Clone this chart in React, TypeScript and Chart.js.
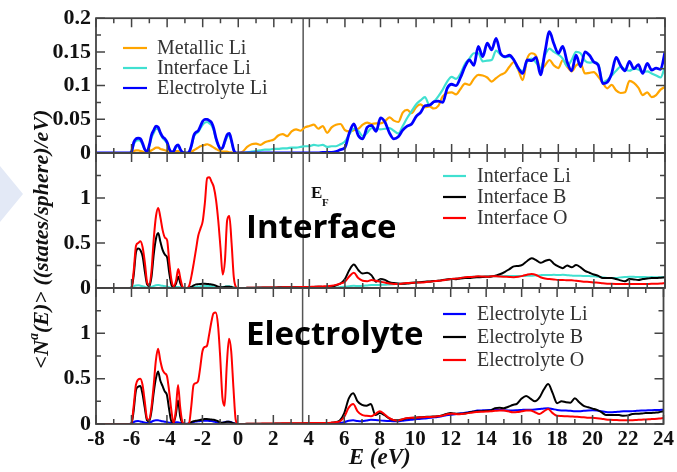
import { useEffect, useRef } from "react";
import { Chart, registerables } from "chart.js";

Chart.register(...registerables);

// ---------- data ----------
const E = [
  -8, -7.5, -7, -6.5,
  -6.25, -6.125, -6, -5.875, -5.75, -5.625, -5.5, -5.375,
  -5.25, -5.125, -5, -4.875, -4.75, -4.625, -4.5, -4.375,
  -4.25, -4.125, -4, -3.875, -3.75, -3.625, -3.5, -3.375,
  -3.25, -3.125, -3, -2.875, -2.75, -2.625, -2.5, -2.375,
  -2.25, -2.125, -2, -1.875, -1.75, -1.625, -1.5, -1.375,
  -1.25, -1.125, -1, -0.875, -0.75, -0.625, -0.5, -0.375,
  -0.25, -0.125, 0,
  0.25, 0.5, 0.75,
  1, 1.25, 1.5, 1.75, 2, 2.25, 2.5, 2.75, 3, 3.25, 3.5, 3.75,
  4, 4.25, 4.5, 4.75, 5, 5.25, 5.5, 5.75, 6, 6.25, 6.5, 6.75,
  7, 7.25, 7.5, 7.75, 8, 8.25, 8.5, 8.75, 9, 9.25, 9.5, 9.75,
  10, 10.25, 10.5, 10.75, 11, 11.25, 11.5, 11.75, 12, 12.25, 12.5, 12.75,
  13, 13.25, 13.5, 13.75, 14, 14.25, 14.5, 14.75, 15, 15.25, 15.5, 15.75,
  16, 16.25, 16.5, 16.75, 17, 17.25, 17.5, 17.75, 18, 18.25, 18.5, 18.75,
  19, 19.25, 19.5, 19.75, 20, 20.25, 20.5, 20.75, 21, 21.25, 21.5, 21.75,
  22, 22.25, 22.5, 22.75, 23, 23.25, 23.5, 23.75,
  24,
];

// top panel
const metallicLi = [
  0, 0, 0, 0,
  0, 0, 0.001, 0.003, 0.004, 0.004, 0.003, 0.002,
  0.001, 0.001, 0.002, 0.004, 0.006, 0.008, 0.008, 0.006,
  0.005, 0.004, 0.003, 0.002, 0.002, 0.002, 0.003, 0.003,
  0.002, 0.001, 0, 0, 0.001, 0.002, 0.004, 0.006,
  0.008, 0.01, 0.011, 0.012, 0.013, 0.012, 0.01, 0.008,
  0.006, 0.004, 0.003, 0.002, 0.002, 0.002, 0.001, 0.001,
  0, 0, 0,
  0.002, 0.009, 0.013,
  0.014, 0.012, 0.016, 0.018,
  0.02, 0.026, 0.028, 0.025,
  0.032, 0.035, 0.033, 0.038,
  0.04, 0.042, 0.036, 0.04,
  0.03, 0.038, 0.042, 0.043,
  0.034, 0.032, 0.034, 0.036,
  0.042, 0.045, 0.043, 0.044,
  0.044, 0.047, 0.053, 0.048,
  0.046, 0.06, 0.064, 0.059,
  0.068, 0.072, 0.068, 0.069,
  0.066, 0.07, 0.084, 0.089,
  0.09, 0.087, 0.095, 0.103,
  0.101, 0.11, 0.116, 0.115,
  0.112, 0.106, 0.111, 0.116,
  0.119, 0.128, 0.135, 0.123,
  0.108, 0.14, 0.148, 0.144,
  0.124, 0.13, 0.138, 0.13,
  0.126, 0.138, 0.128, 0.121,
  0.13, 0.133, 0.118, 0.119,
  0.12, 0.113, 0.104, 0.096,
  0.101, 0.093, 0.089, 0.09,
  0.107, 0.104, 0.097, 0.086,
  0.09, 0.083, 0.086, 0.094,
  0.098,
];

const interfaceLiTop = [
  0, 0, 0, 0,
  0, 0, 0.002, 0.013, 0.018, 0.019, 0.018, 0.012,
  0.005, 0.002, 0.01, 0.023, 0.03, 0.036, 0.035, 0.028,
  0.022, 0.019, 0.014, 0.005, 0.001, 0.003, 0.009, 0.01,
  0.004, 0.001, 0, 0, 0.002, 0.011, 0.024, 0.029,
  0.031, 0.037, 0.042, 0.045, 0.046, 0.044, 0.041, 0.033,
  0.02, 0.011, 0.006, 0.008, 0.016, 0.024, 0.026, 0.016,
  0.004, 0, 0,
  0, 0.001, 0.002,
  0.003, 0.004, 0.005, 0.005,
  0.006, 0.006, 0.007, 0.007,
  0.008, 0.008, 0.009, 0.01,
  0.01, 0.012, 0.011, 0.012,
  0.009, 0.01, 0.01, 0.013,
  0.017, 0.028, 0.036, 0.033,
  0.025, 0.03, 0.037, 0.036,
  0.035, 0.036, 0.037, 0.033,
  0.029, 0.04, 0.052, 0.062,
  0.072, 0.078, 0.083, 0.071,
  0.076, 0.084, 0.094, 0.106,
  0.113, 0.11, 0.118, 0.132,
  0.14, 0.148, 0.148, 0.136,
  0.137, 0.138, 0.152, 0.146,
  0.142, 0.143, 0.138, 0.124,
  0.122, 0.136, 0.14, 0.134,
  0.126, 0.145, 0.155, 0.15,
  0.146, 0.14, 0.129, 0.138,
  0.15, 0.148, 0.137, 0.134,
  0.135, 0.132, 0.105, 0.108,
  0.115, 0.122, 0.128, 0.124,
  0.122, 0.125, 0.124, 0.12,
  0.121, 0.118, 0.115, 0.112,
  0.128,
];

const electrolyteLiTop = [
  0, 0, 0, 0,
  0, 0, 0.002, 0.016, 0.021, 0.022, 0.021, 0.014,
  0.005, 0.002, 0.012, 0.027, 0.034, 0.04, 0.038, 0.03,
  0.024, 0.021, 0.016, 0.006, 0.001, 0.003, 0.01, 0.012,
  0.005, 0.001, 0, 0, 0.002, 0.012, 0.026, 0.031,
  0.033, 0.04, 0.047, 0.05, 0.05, 0.048, 0.045, 0.036,
  0.022, 0.012, 0.006, 0.008, 0.018, 0.027, 0.029, 0.018,
  0.004, 0, 0,
  0, 0, 0,
  0, 0, 0, 0,
  0, 0, 0, 0,
  0, 0, 0, 0,
  0, 0, 0, 0.001,
  0.001, 0.001, 0.002, 0.005,
  0.008, 0.03, 0.043, 0.026,
  0.021, 0.038, 0.041, 0.032,
  0.052, 0.046, 0.03, 0.021,
  0.024, 0.034, 0.04, 0.043,
  0.054, 0.06, 0.07, 0.071,
  0.076, 0.077, 0.075, 0.096,
  0.102, 0.1, 0.112, 0.128,
  0.138, 0.13, 0.158, 0.143,
  0.163, 0.153, 0.17, 0.148,
  0.143, 0.145, 0.138, 0.126,
  0.118, 0.138, 0.137, 0.142,
  0.116, 0.15, 0.18, 0.162,
  0.148, 0.158, 0.135, 0.122,
  0.145, 0.128, 0.15, 0.145,
  0.135, 0.13, 0.103, 0.105,
  0.118, 0.142, 0.13, 0.122,
  0.136, 0.125, 0.131, 0.118,
  0.133, 0.123, 0.126, 0.124,
  0.15,
];

// middle panel
const interfaceLi = [
  0, 0, 0, 0,
  0, 0, 0.005, 0.02, 0.028, 0.03, 0.026, 0.02,
  0.012, 0.006, 0.006, 0.012, 0.022, 0.03, 0.032, 0.028,
  0.024, 0.02, 0.016, 0.008, 0.004, 0.006, 0.012, 0.012,
  0.006, 0.002, 0, 0, 0.002, 0.006, 0.012, 0.015,
  0.017, 0.019, 0.021, 0.022, 0.022, 0.021, 0.019, 0.016,
  0.012, 0.009, 0.008, 0.01, 0.015, 0.02, 0.02, 0.014,
  0.006, 0.002, 0,
  0, 0, 0,
  0, 0, 0.001, 0.001,
  0.001, 0.001, 0.002, 0.002,
  0.002, 0.002, 0.003, 0.003,
  0.003, 0.003, 0.003, 0.003,
  0.003, 0.005, 0.006, 0.01,
  0.015, 0.02, 0.025, 0.022,
  0.024, 0.028, 0.032, 0.034,
  0.035, 0.036, 0.04, 0.043,
  0.045, 0.05, 0.055, 0.06,
  0.062, 0.066, 0.068, 0.07,
  0.075, 0.08, 0.088, 0.095,
  0.1, 0.106, 0.112, 0.118,
  0.122, 0.125, 0.128, 0.128,
  0.13, 0.13, 0.13, 0.131,
  0.132, 0.132, 0.133, 0.133,
  0.134, 0.135, 0.136, 0.14,
  0.143, 0.145, 0.145, 0.146,
  0.145, 0.146, 0.142, 0.138,
  0.135, 0.135, 0.133, 0.132,
  0.13, 0.125, 0.118, 0.112,
  0.11, 0.112, 0.118, 0.122,
  0.125, 0.124, 0.122, 0.122,
  0.12, 0.121, 0.12, 0.12,
  0.12,
];

const interfaceB = [
  0, 0, 0, 0,
  0, 0, 0.005, 0.15, 0.4, 0.44, 0.42, 0.35,
  0.18, 0.04, 0.02, 0.13, 0.38, 0.55, 0.61, 0.51,
  0.42, 0.37, 0.34, 0.16, 0.03, 0.01, 0.05, 0.125,
  0.05, 0.005, 0, 0, 0.005, 0.015, 0.03, 0.04,
  0.043, 0.045, 0.046, 0.046, 0.045, 0.042, 0.04, 0.035,
  0.025, 0.015, 0.01, 0.008, 0.012, 0.015, 0.014, 0.01,
  0.004, 0, 0,
  0, 0.002, 0.003,
  0.004, 0.005, 0.005, 0.006,
  0.006, 0.007, 0.007, 0.008,
  0.008, 0.009, 0.009, 0.01,
  0.01, 0.012, 0.015, 0.012,
  0.008, 0.012, 0.03, 0.05,
  0.1, 0.2, 0.26, 0.2,
  0.16, 0.17, 0.14, 0.07,
  0.1, 0.09, 0.065, 0.055,
  0.05, 0.048, 0.05, 0.055,
  0.06, 0.065, 0.07, 0.072,
  0.078, 0.08, 0.088, 0.095,
  0.1, 0.098, 0.105, 0.11,
  0.112, 0.118, 0.12, 0.122,
  0.125, 0.128, 0.14, 0.155,
  0.18, 0.21, 0.24, 0.245,
  0.26, 0.3, 0.33, 0.31,
  0.28, 0.3, 0.315, 0.27,
  0.24, 0.22, 0.25, 0.23,
  0.255, 0.23, 0.19, 0.17,
  0.15, 0.135, 0.11, 0.11,
  0.11, 0.1, 0.085, 0.075,
  0.1, 0.095, 0.09, 0.1,
  0.105, 0.11, 0.11, 0.115,
  0.12,
];

const interfaceO = [
  0, 0, 0, 0,
  0, 0, 0.01, 0.2, 0.47, 0.5, 0.52, 0.45,
  0.28, 0.06, 0.03, 0.2, 0.55, 0.8, 0.89, 0.78,
  0.64, 0.56, 0.53, 0.28, 0.08, 0.02, 0.08, 0.21,
  0.1, 0.01, 0, 0, 0.03, 0.14, 0.28, 0.43,
  0.58, 0.66, 0.74, 0.95, 1.22, 1.23, 1.18, 1.12,
  0.98, 0.75, 0.45, 0.15, 0.3, 0.75, 0.8, 0.5,
  0.12, 0.01, 0,
  0, 0.002, 0.003,
  0.004, 0.004, 0.005, 0.005,
  0.006, 0.006, 0.007, 0.008,
  0.008, 0.009, 0.01, 0.01,
  0.012, 0.014, 0.016, 0.018,
  0.02, 0.025, 0.035, 0.05,
  0.07, 0.13, 0.17, 0.11,
  0.08, 0.075, 0.09, 0.08,
  0.07, 0.06, 0.05, 0.045,
  0.045, 0.05, 0.055, 0.058,
  0.06, 0.062, 0.065, 0.07,
  0.075, 0.08, 0.085, 0.095,
  0.1, 0.105, 0.112, 0.12,
  0.122, 0.125, 0.13, 0.128,
  0.126, 0.13, 0.13, 0.128,
  0.125, 0.122, 0.12, 0.125,
  0.135, 0.148, 0.155, 0.145,
  0.12, 0.105, 0.1, 0.095,
  0.09, 0.09, 0.085, 0.085,
  0.08, 0.075, 0.07, 0.068,
  0.062, 0.058, 0.052, 0.048,
  0.046, 0.045, 0.045, 0.044,
  0.045, 0.045, 0.045, 0.044,
  0.045, 0.046, 0.048, 0.05,
  0.055,
];

// bottom panel
const electrolyteLi = [
  0, 0, 0, 0,
  0, 0, 0.005, 0.02, 0.03, 0.032, 0.028, 0.022,
  0.016, 0.012, 0.014, 0.025, 0.035, 0.04, 0.04, 0.035,
  0.03, 0.026, 0.022, 0.015, 0.01, 0.012, 0.02, 0.02,
  0.012, 0.005, 0.002, 0.002, 0.005, 0.012, 0.022, 0.027,
  0.03, 0.032, 0.034, 0.036, 0.036, 0.034, 0.032, 0.028,
  0.022, 0.016, 0.012, 0.014, 0.02, 0.026, 0.026, 0.02,
  0.01, 0.003, 0,
  0, 0, 0,
  0, 0, 0, 0,
  0, 0, 0, 0,
  0, 0, 0, 0.001,
  0.001, 0.001, 0.001, 0.002,
  0.002, 0.004, 0.006, 0.01,
  0.02, 0.035, 0.04, 0.032,
  0.03, 0.038, 0.046, 0.045,
  0.04, 0.036, 0.033, 0.03,
  0.03, 0.035, 0.042, 0.048,
  0.052, 0.056, 0.06, 0.066,
  0.072, 0.078, 0.086, 0.095,
  0.102, 0.108, 0.115, 0.122,
  0.13, 0.138, 0.148, 0.15,
  0.152, 0.155, 0.158, 0.155,
  0.152, 0.15, 0.15, 0.152,
  0.155, 0.158, 0.158, 0.16,
  0.165, 0.172, 0.175, 0.165,
  0.155, 0.15, 0.148, 0.145,
  0.14, 0.14, 0.145, 0.15,
  0.152, 0.148, 0.14, 0.132,
  0.13, 0.132, 0.136, 0.14,
  0.14, 0.142, 0.145, 0.148,
  0.15, 0.152, 0.154, 0.155,
  0.158,
];

const electrolyteB = [
  0, 0, 0, 0,
  0, 0, 0.005, 0.15, 0.37, 0.41, 0.42, 0.33,
  0.18, 0.04, 0.03, 0.14, 0.34, 0.5, 0.58, 0.48,
  0.42, 0.36, 0.32, 0.16, 0.03, 0.02, 0.1, 0.26,
  0.08, 0.01, 0, 0, 0.005, 0.02, 0.03, 0.035,
  0.04, 0.045, 0.05, 0.054, 0.055, 0.053, 0.05, 0.046,
  0.04, 0.03, 0.018, 0.014, 0.018, 0.024, 0.025, 0.018,
  0.008, 0.002, 0,
  0, 0.002, 0.002,
  0.003, 0.003, 0.004, 0.004,
  0.004, 0.005, 0.005, 0.005,
  0.006, 0.006, 0.006, 0.007,
  0.007, 0.007, 0.008, 0.008,
  0.008, 0.012, 0.02, 0.04,
  0.12, 0.28, 0.34, 0.25,
  0.21, 0.2, 0.22, 0.1,
  0.12, 0.1, 0.065, 0.045,
  0.04, 0.05, 0.06, 0.066,
  0.07, 0.075, 0.078, 0.08,
  0.082, 0.086, 0.095, 0.11,
  0.12, 0.115, 0.112, 0.115,
  0.125, 0.135, 0.14, 0.142,
  0.145, 0.15, 0.175, 0.18,
  0.175, 0.19, 0.21, 0.225,
  0.28, 0.31, 0.28, 0.25,
  0.29, 0.38, 0.44, 0.34,
  0.23, 0.25, 0.24, 0.235,
  0.285, 0.24, 0.2, 0.185,
  0.17, 0.155, 0.13, 0.1,
  0.1, 0.1, 0.098, 0.09,
  0.095, 0.11, 0.112, 0.115,
  0.12, 0.12, 0.125, 0.13,
  0.14,
];

const electrolyteO = [
  0, 0, 0, 0,
  0, 0, 0.01, 0.2, 0.43, 0.49, 0.5, 0.43,
  0.25, 0.06, 0.045, 0.18, 0.42, 0.7, 0.83, 0.7,
  0.6, 0.56, 0.53, 0.36, 0.15, 0.01, 0.15, 0.43,
  0.18, 0.02, 0, 0, 0.01, 0.2, 0.43, 0.45,
  0.47, 0.62, 0.8, 0.85, 0.86, 0.98, 1.12, 1.22,
  1.23, 1.1, 0.75, 0.3, 0.2, 0.65, 0.94, 0.8,
  0.4, 0.05, 0,
  0, 0.002, 0.003,
  0.004, 0.004, 0.005, 0.005,
  0.006, 0.006, 0.007, 0.007,
  0.008, 0.008, 0.009, 0.009,
  0.01, 0.01, 0.011, 0.011,
  0.012, 0.015, 0.02, 0.03,
  0.08, 0.18, 0.22, 0.14,
  0.1, 0.09, 0.085, 0.11,
  0.14, 0.11, 0.07, 0.045,
  0.037, 0.05, 0.065, 0.07,
  0.07, 0.072, 0.075, 0.077,
  0.08, 0.085, 0.09, 0.105,
  0.114, 0.11, 0.108, 0.112,
  0.12, 0.128, 0.132, 0.135,
  0.138, 0.14, 0.145, 0.15,
  0.148, 0.14, 0.13, 0.132,
  0.14, 0.15, 0.148, 0.13,
  0.11, 0.14, 0.165, 0.12,
  0.09, 0.088, 0.086, 0.084,
  0.08, 0.078, 0.075, 0.07,
  0.068, 0.064, 0.058, 0.05,
  0.046, 0.044, 0.042, 0.04,
  0.04, 0.042, 0.045, 0.048,
  0.05, 0.053, 0.056, 0.06,
  0.066,
];

const X_MIN = -8;
const X_MAX = 24;
const X_STEP = 2;
const FERMI = 3.65;
const TOP_Y_TICKS = { max: 0.2, step: 0.05, minor: 0.025 };
const LOW_Y_TICKS = { max: 1.5, step: 0.5, minor: 0.25 };

const SERIF = '"Liberation Serif", "Times New Roman", serif';
const SANS = '"Open Sans", "Noto Sans", sans-serif';

type Series = { label: string; data: number[]; color: string; width: number };
type Panel = {
  series: Series[];
  yt: { max: number; step: number; minor: number };
  top: number;
  bottom: number;
  showX: boolean;
  legend: { x1: number; x2: number; tx: number; rows: number[] };
  extra?: (ctx: CanvasRenderingContext2D) => void;
};

const drawChevron = (ctx: CanvasRenderingContext2D) => {
  ctx.fillStyle = "#e3e9f6";
  ctx.beginPath();
  ctx.moveTo(0, 166);
  ctx.lineTo(23, 194);
  ctx.lineTo(0, 222);
  ctx.closePath();
  ctx.fill();
};

const drawInterfaceTexts = (ctx: CanvasRenderingContext2D) => {
  ctx.fillStyle = "#000";
  ctx.textBaseline = "alphabetic";
  ctx.textAlign = "left";
  ctx.font = `bold 33px ${SANS}`;
  ctx.fillText("Interface", 246, 238);
  ctx.fillStyle = "#111";
  ctx.font = `bold 17px ${SERIF}`;
  ctx.fillText("E", 311, 198);
  ctx.font = `bold 11px ${SERIF}`;
  ctx.fillText("F", 322, 206);
};

const drawElectrolyteTexts = (ctx: CanvasRenderingContext2D) => {
  ctx.fillStyle = "#000";
  ctx.textBaseline = "alphabetic";
  ctx.textAlign = "left";
  ctx.font = `bold 33px ${SANS}`;
  ctx.fillText("Electrolyte", 246, 345);
  // y axis title
  ctx.save();
  ctx.translate(42, 239);
  ctx.rotate(-Math.PI / 2);
  const big = `italic bold 22px ${SERIF}`;
  const small = `italic bold 14px ${SERIF}`;
  const p1 = "<N";
  const p2 = "a";
  const p3 = "(E)> ((states/sphere)/eV)";
  ctx.font = big;
  const w1 = ctx.measureText(p1).width;
  const w3 = ctx.measureText(p3).width;
  ctx.font = small;
  const w2 = ctx.measureText(p2).width;
  let sx = -(w1 + w2 + w3) / 2;
  ctx.fillStyle = "#111";
  ctx.textBaseline = "middle";
  ctx.font = big;
  ctx.fillText(p1, sx, 0);
  sx += w1;
  ctx.font = small;
  ctx.fillText(p2, sx, -8);
  sx += w2;
  ctx.font = big;
  ctx.fillText(p3, sx, 0);
  ctx.restore();
};

const PANELS: Panel[] = [
  {
    series: [
      { label: "Metallic Li", data: metallicLi, color: "#FFA500", width: 2.2 },
      { label: "Interface Li", data: interfaceLiTop, color: "#40E0D0", width: 2.2 },
      { label: "Electrolyte Li", data: electrolyteLiTop, color: "#0000FF", width: 2.8 },
    ],
    yt: TOP_Y_TICKS,
    top: 18,
    bottom: 153,
    showX: false,
    legend: { x1: 123, x2: 147, tx: 157, rows: [48, 68, 88] },
    extra: drawChevron,
  },
  {
    series: [
      { label: "Interface Li", data: interfaceLi, color: "#40E0D0", width: 2 },
      { label: "Interface B", data: interfaceB, color: "#000000", width: 2 },
      { label: "Interface O", data: interfaceO, color: "#FF0000", width: 2 },
    ],
    yt: LOW_Y_TICKS,
    top: 153,
    bottom: 288,
    showX: false,
    legend: { x1: 443, x2: 466, tx: 477, rows: [176, 197, 218] },
    extra: drawInterfaceTexts,
  },
  {
    series: [
      { label: "Electrolyte Li", data: electrolyteLi, color: "#0000FF", width: 2 },
      { label: "Electrolyte B", data: electrolyteB, color: "#000000", width: 2 },
      { label: "Electrolyte O", data: electrolyteO, color: "#FF0000", width: 2 },
    ],
    yt: LOW_Y_TICKS,
    top: 288,
    bottom: 424,
    showX: true,
    legend: { x1: 443, x2: 466, tx: 477, rows: [314, 337, 360] },
    extra: drawElectrolyteTexts,
  },
];

const W = 677;
const H = 472;
const PLOT_LEFT = 96;
const PLOT_RIGHT = 665;

const decoPlugin = {
  id: "deco",
  beforeDatasetsDraw(chart: any) {
    const { ctx, chartArea: a, scales } = chart;
    const fx = scales.x.getPixelForValue(FERMI);
    ctx.save();
    ctx.strokeStyle = "#555";
    ctx.lineWidth = 1.5;
    ctx.beginPath();
    ctx.moveTo(fx, a.top);
    ctx.lineTo(fx, a.bottom);
    ctx.stroke();
    ctx.restore();
  },
  afterDraw(chart: any, _a: any, opts: any) {
    const panel: Panel = opts.panel;
    if (!panel) return;
    const { ctx, chartArea: a, scales } = chart;
    const xs = scales.x;
    const ys = scales.y;
    ctx.save();
    ctx.strokeStyle = "#444";
    ctx.lineWidth = 1.5;
    ctx.beginPath();
    for (let v = X_MIN; v <= X_MAX; v += 1) {
      const px = xs.getPixelForValue(v);
      const len = v % 2 === 0 ? 9 : 5;
      ctx.moveTo(px, a.bottom);
      ctx.lineTo(px, a.bottom - len);
      ctx.moveTo(px, a.top);
      ctx.lineTo(px, a.top + len);
    }
    const n = Math.round(panel.yt.max / panel.yt.minor);
    for (let k = 0; k <= n; k++) {
      const py = ys.getPixelForValue(k * panel.yt.minor);
      const len = k % 2 === 0 ? 9 : 5;
      ctx.moveTo(a.left, py);
      ctx.lineTo(a.left + len, py);
      ctx.moveTo(a.right, py);
      ctx.lineTo(a.right - len, py);
    }
    ctx.stroke();
    ctx.strokeStyle = "#444";
    ctx.lineWidth = 1.8;
    ctx.strokeRect(a.left, a.top, a.right - a.left, a.bottom - a.top);

    // legend
    const L = panel.legend;
    ctx.font = `20px ${SERIF}`;
    ctx.textBaseline = "middle";
    ctx.textAlign = "left";
    panel.series.forEach((s, i) => {
      const y = L.rows[i];
      ctx.strokeStyle = s.color;
      ctx.lineWidth = 2.2;
      ctx.beginPath();
      ctx.moveTo(L.x1, y);
      ctx.lineTo(L.x2, y);
      ctx.stroke();
      ctx.fillStyle = "#333";
      ctx.fillText(s.label, L.tx, y + 1);
    });
    if (panel.extra) panel.extra(ctx);
    ctx.restore();
  },
};

function fmt(v: number) {
  return String(+Number(v).toFixed(3));
}

function makeChart(canvas: HTMLCanvasElement, panel: Panel) {
  const n = panel.series.length;
  return new Chart(canvas, {
    type: "line",
    data: {
      datasets: panel.series.map((s, i) => ({
        label: s.label,
        data: E.map((x, j) => ({ x, y: s.data[j] })),
        borderColor: s.color,
        backgroundColor: s.color,
        borderWidth: s.width,
        pointRadius: 0,
        fill: false,
        cubicInterpolationMode: "monotone" as const,
        order: n - i,
      })),
    },
    options: {
      animation: false,
      responsive: false,
      devicePixelRatio: 1,
      layout: {
        padding: {
          left: 0,
          right: W - PLOT_RIGHT,
          top: panel.top,
          bottom: panel.showX ? 0 : H - panel.bottom,
        },
      },
      plugins: {
        legend: { display: false },
        tooltip: { enabled: false },
        deco: { panel },
      } as any,
      scales: {
        x: {
          type: "linear",
          min: X_MIN,
          max: X_MAX,
          afterFit: (s: any) => {
            s.height = panel.showX ? H - panel.bottom : 0;
          },
          grid: { display: false, drawTicks: false },
          border: { display: false },
          ticks: {
            display: panel.showX,
            stepSize: X_STEP,
            autoSkip: false,
            maxRotation: 0,
            padding: 3,
            color: "#111",
            font: { family: SERIF, size: 21, weight: "bold" },
            callback: (v: any) => String(v),
          },
          title: panel.showX
            ? {
                display: true,
                text: "E (eV)",
                color: "#111",
                padding: { top: 0, bottom: 0 },
                font: { family: SERIF, size: 23, style: "italic", weight: "bold" },
              }
            : { display: false },
        },
        y: {
          type: "linear",
          min: 0,
          max: panel.yt.max,
          afterFit: (s: any) => {
            s.width = PLOT_LEFT;
          },
          grid: { display: false, drawTicks: false },
          border: { display: false },
          ticks: {
            stepSize: panel.yt.step,
            padding: 5,
            color: "#111",
            font: { family: SERIF, size: 22, weight: "bold" },
            callback: (v: any) => (Math.abs(v - 1.5) < 1e-9 ? "" : fmt(v)),
          },
        },
      },
    } as any,
    plugins: [decoPlugin as any],
  });
}

export default function App() {
  const r0 = useRef<HTMLCanvasElement>(null);
  const r1 = useRef<HTMLCanvasElement>(null);
  const r2 = useRef<HTMLCanvasElement>(null);

  useEffect(() => {
    const refs = [r0, r1, r2];
    const charts = PANELS.map((p, i) => makeChart(refs[i].current as HTMLCanvasElement, p));
    return () => charts.forEach((c) => c.destroy());
  }, []);

  const style: React.CSSProperties = { position: "absolute", left: 0, top: 0, width: W, height: H };
  return (
    <div style={{ position: "absolute", left: 0, top: 0, width: W, height: H, background: "#fff" }}>
      <canvas ref={r0} width={W} height={H} style={style} />
      <canvas ref={r1} width={W} height={H} style={style} />
      <canvas ref={r2} width={W} height={H} style={style} />
    </div>
  );
}
